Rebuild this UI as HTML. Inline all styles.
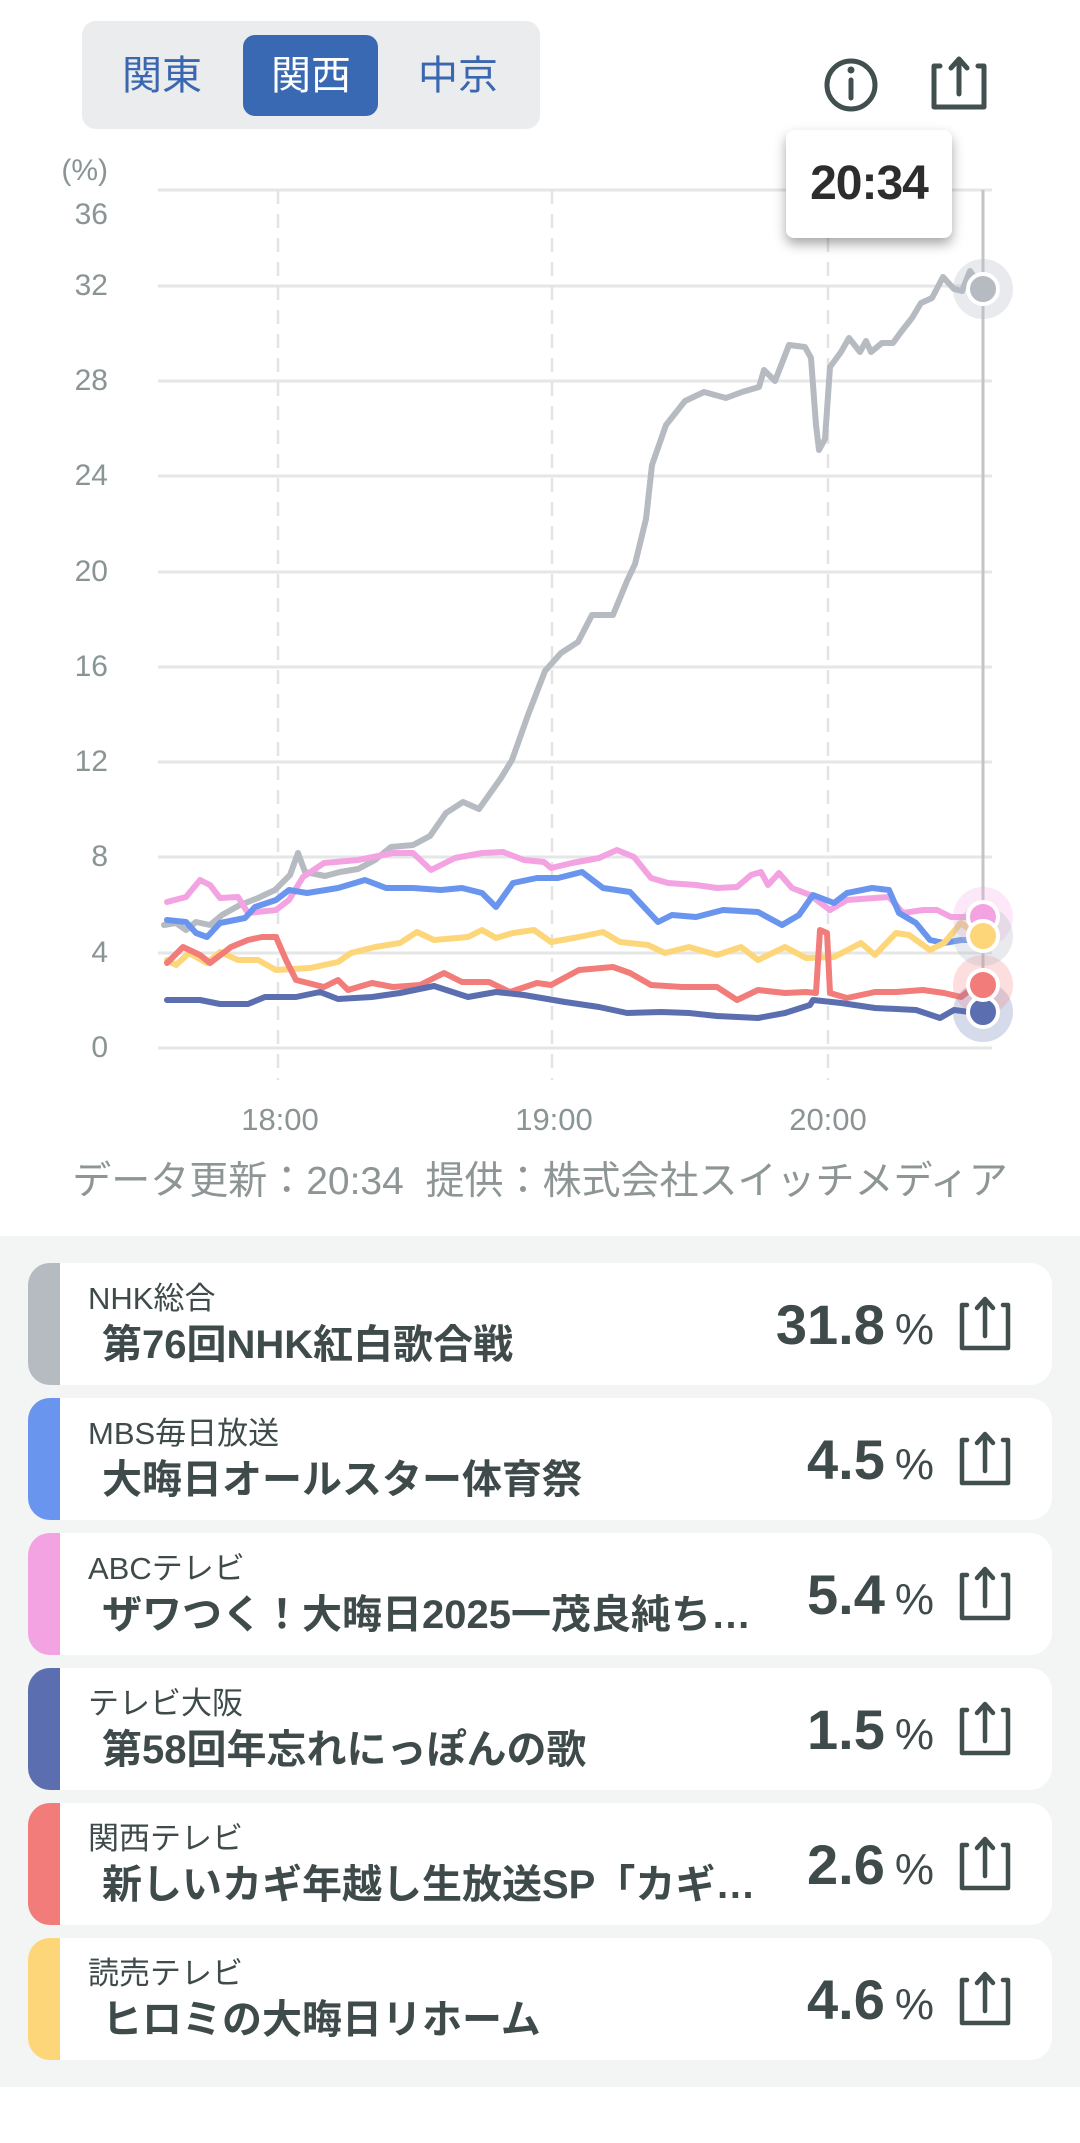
<!DOCTYPE html>
<html><head><meta charset="utf-8"><style>
*{margin:0;padding:0;box-sizing:border-box}
body{width:1080px;height:2143px;background:#fff;position:relative;font-family:"Liberation Sans","Noto Sans CJK JP",sans-serif;overflow:hidden}
.abs{position:absolute}
.seg{left:82px;top:21px;width:458px;height:108px;background:#eaeced;border-radius:14px}
.segt{top:48px;font-size:40px;color:#3a67b0;line-height:56px}
.sel{left:243px;top:35px;width:135px;height:81px;background:#3a69b3;border-radius:12px}
.tip{left:786px;top:130px;width:166px;height:108px;background:#fff;border-radius:8px;box-shadow:0 6px 12px rgba(0,0,0,.35);font-weight:bold;font-size:48px;color:#2d2d2d;text-align:center;line-height:108px;letter-spacing:-1px}
.ylab{width:62px;left:46px;text-align:right;font-size:30px;color:#8a9494;line-height:32px}
.xlab{font-size:31px;color:#8a9494;width:140px;text-align:center;top:1102px}
.foot{left:0;width:1080px;text-align:center;top:1158px;font-size:39px;color:#8d9595;line-height:48px;white-space:nowrap}
.bg{left:0;top:1236px;width:1080px;height:851px;background:#f3f4f4}
.card{left:28px;width:1024px;height:122px;background:#fff;border-radius:22px;overflow:hidden}
.bar{left:0;top:0;width:32px;height:122px}
.ch{left:60px;top:18px;font-size:31px;color:#3f4a4a;line-height:36px}
.ti{left:74px;top:59px;font-size:40px;font-weight:bold;color:#3f4a4a;line-height:46px;white-space:nowrap}
.val{right:118px;top:30px;font-size:56px;font-weight:bold;color:#3f4a4a;line-height:64px}
.val span{font-size:44px;font-weight:normal;margin-left:10px}
</style></head><body>
<div class="abs seg"></div>
<div class="abs sel"></div>
<div class="abs segt" style="left:122px">関東</div>
<div class="abs segt" style="left:271px;color:#fff">関西</div>
<div class="abs segt" style="left:418px">中京</div>

<svg class="abs" style="left:0;top:0" width="1080" height="1100">
<g fill="none" stroke="#424f4f" stroke-width="5" stroke-linecap="round" stroke-linejoin="round">
<circle cx="851" cy="85" r="24"/>
<line x1="851" y1="80" x2="851" y2="98"/>
<path d="M940 66 L934 66 L934 107 L984 107 L984 66 L978 66"/>
<path d="M959 94 L959 60 M951 68 L959 59 L967 68"/>
</g>
<circle cx="851" cy="70" r="3.5" fill="#424f4f"/>
<g stroke="#e6e6e6" stroke-width="3">
<line x1="158" y1="190" x2="992" y2="190"/>
<line x1="158" y1="286" x2="992" y2="286"/>
<line x1="158" y1="381" x2="992" y2="381"/>
<line x1="158" y1="476" x2="992" y2="476"/>
<line x1="158" y1="572" x2="992" y2="572"/>
<line x1="158" y1="667" x2="992" y2="667"/>
<line x1="158" y1="762" x2="992" y2="762"/>
<line x1="158" y1="857" x2="992" y2="857"/>
<line x1="158" y1="953" x2="992" y2="953"/>
<line x1="158" y1="1048" x2="992" y2="1048"/>
</g>
<g stroke="#e3e3e3" stroke-width="2.5" stroke-dasharray="14 10">
<line x1="278" y1="190" x2="278" y2="1080"/>
<line x1="552" y1="190" x2="552" y2="1080"/>
<line x1="828" y1="190" x2="828" y2="1080"/>
</g>
<line x1="983" y1="190" x2="983" y2="1012" stroke="#c4c4c4" stroke-width="3"/>
<g fill="none" stroke-width="6" stroke-linejoin="round" stroke-linecap="round">
<polyline stroke="#b6bbc2" points="164,925 176,923 186,930 196,922 210,925 222,915 240,905 258,898 275,890 290,875 298,853 305,872 325,876 340,872 358,869 375,860 391,847 413,845 430,836 446,813 463,802 479,809 501,778 512,760 528,715 545,671 561,653 578,642 592,615 613,615 627,581 635,564 646,519 652,465 666,425 685,401 704,392 726,398 742,392 759,387 764,370 775,381 789,345 805,347 811,358 816,425 819,450 825,439 830,367 841,352 849,338 860,352 866,341 871,352 882,343 893,343 901,332 912,318 921,303 932,298 943,277 954,289 962,291 970,271 982,289"/>
<polyline stroke="#f4a3e2" points="167,902 186,897 200,880 210,885 220,898 238,897 248,913 276,910 289,900 303,877 324,863 358,860 393,853 413,853 431,870 455,858 482,853 503,852 524,860 544,862 551,868 572,863 599,858 617,850 634,857 651,878 668,883 696,885 717,888 737,887 751,875 761,872 768,885 779,873 792,888 810,895 830,910 847,900 875,898 889,897 903,913 923,910 937,910 951,917 968,917"/>
<polyline stroke="#6a95ee" points="167,920 186,922 196,933 207,937 220,923 245,918 255,907 276,900 289,890 307,893 338,888 365,880 386,888 413,888 441,890 462,888 482,893 496,907 513,883 537,878 558,878 582,872 603,888 630,892 658,922 672,915 696,917 723,910 758,912 782,925 799,915 813,895 834,903 847,893 872,888 889,890 899,913 916,923 930,940 944,943 961,940 970,940"/>
<polyline stroke="#fdd67a" points="167,960 176,965 189,953 207,963 220,952 238,960 258,960 276,970 310,968 338,962 351,953 375,947 400,943 417,932 434,940 468,937 482,930 496,938 513,933 534,930 551,942 579,937 603,932 620,942 648,945 665,953 689,947 717,955 741,947 758,960 785,947 806,958 834,957 861,943 875,955 896,933 909,935 930,950 944,943 961,923 970,930"/>
<polyline stroke="#f27c7a" points="167,963 183,947 200,955 210,963 231,947 248,940 262,937 276,937 286,960 296,980 324,987 338,980 348,990 372,983 393,987 420,985 444,973 462,982 489,982 510,992 537,983 551,985 579,970 613,967 630,973 651,985 682,987 717,987 737,1000 758,990 785,993 806,992 816,993 820,930 827,933 830,993 847,998 875,992 896,992 923,990 944,993 961,997 970,990"/>
<polyline stroke="#5b6fb0" points="167,1000 200,1000 220,1004 248,1004 265,997 296,997 320,992 338,999 372,997 400,993 434,986 468,997 496,992 524,995 565,1002 599,1007 627,1013 661,1012 689,1013 717,1016 758,1018 785,1013 810,1005 813,1000 841,1003 875,1008 916,1010 940,1018 954,1010 970,1012"/>
</g>
<g stroke="#fff" stroke-width="4">
<circle cx="983" cy="289" r="30" fill="rgba(182,187,194,.3)" stroke="none"/>
<circle cx="983" cy="289" r="15" fill="#b6bbc2"/>
<circle cx="983" cy="1012" r="30" fill="rgba(91,111,176,.25)" stroke="none"/>
<circle cx="983" cy="985" r="30" fill="rgba(242,124,122,.25)" stroke="none"/>
<circle cx="983" cy="917" r="30" fill="rgba(244,163,226,.25)" stroke="none"/>
<circle cx="983" cy="936" r="30" fill="rgba(182,187,194,.3)" stroke="none"/>
<circle cx="983" cy="1012" r="15" fill="#5b6fb0"/>
<circle cx="983" cy="985" r="15" fill="#f27c7a"/>
<circle cx="983" cy="917" r="15" fill="#f4a3e2"/>
<circle cx="983" cy="936" r="15" fill="#fdd67a"/>
</g>
</svg>
<div class="abs tip">20:34</div>

<div class="abs ylab" style="top:155px">(%)</div>
<div class="abs ylab" style="top:199px">36</div>
<div class="abs ylab" style="top:270px">32</div>
<div class="abs ylab" style="top:365px">28</div>
<div class="abs ylab" style="top:460px">24</div>
<div class="abs ylab" style="top:556px">20</div>
<div class="abs ylab" style="top:651px">16</div>
<div class="abs ylab" style="top:746px">12</div>
<div class="abs ylab" style="top:841px">8</div>
<div class="abs ylab" style="top:937px">4</div>
<div class="abs ylab" style="top:1032px">0</div>
<div class="abs xlab" style="left:210px">18:00</div>
<div class="abs xlab" style="left:484px">19:00</div>
<div class="abs xlab" style="left:758px">20:00</div>
<div class="abs foot">データ更新：20:34&nbsp; 提供：株式会社スイッチメディア</div>

<div class="abs bg"></div>

<div class="abs card" style="top:1263px"><div class="abs bar" style="background:#b6bbc2"></div><div class="abs ch">NHK総合</div><div class="abs ti">第76回NHK紅白歌合戦</div><div class="abs val">31.8<span>%</span></div>
<svg class="abs" style="left:930px;top:33px" width="60" height="60"><g fill="none" stroke="#424f4f" stroke-width="4.5" stroke-linecap="round" stroke-linejoin="round"><path d="M9 9 L4 9 L4 52 L50 52 L50 9 L45 9"/><path d="M27 40 L27 4 M19 12 L27 3 L35 12"/></g></svg></div>

<div class="abs card" style="top:1398px"><div class="abs bar" style="background:#6a95ee"></div><div class="abs ch">MBS毎日放送</div><div class="abs ti">大晦日オールスター体育祭</div><div class="abs val">4.5<span>%</span></div>
<svg class="abs" style="left:930px;top:33px" width="60" height="60"><g fill="none" stroke="#424f4f" stroke-width="4.5" stroke-linecap="round" stroke-linejoin="round"><path d="M9 9 L4 9 L4 52 L50 52 L50 9 L45 9"/><path d="M27 40 L27 4 M19 12 L27 3 L35 12"/></g></svg></div>

<div class="abs card" style="top:1533px"><div class="abs bar" style="background:#f4a3e2"></div><div class="abs ch">ABCテレビ</div><div class="abs ti">ザワつく！大晦日2025一茂良純ち…</div><div class="abs val">5.4<span>%</span></div>
<svg class="abs" style="left:930px;top:33px" width="60" height="60"><g fill="none" stroke="#424f4f" stroke-width="4.5" stroke-linecap="round" stroke-linejoin="round"><path d="M9 9 L4 9 L4 52 L50 52 L50 9 L45 9"/><path d="M27 40 L27 4 M19 12 L27 3 L35 12"/></g></svg></div>

<div class="abs card" style="top:1668px"><div class="abs bar" style="background:#5b6fb0"></div><div class="abs ch">テレビ大阪</div><div class="abs ti">第58回年忘れにっぽんの歌</div><div class="abs val">1.5<span>%</span></div>
<svg class="abs" style="left:930px;top:33px" width="60" height="60"><g fill="none" stroke="#424f4f" stroke-width="4.5" stroke-linecap="round" stroke-linejoin="round"><path d="M9 9 L4 9 L4 52 L50 52 L50 9 L45 9"/><path d="M27 40 L27 4 M19 12 L27 3 L35 12"/></g></svg></div>

<div class="abs card" style="top:1803px"><div class="abs bar" style="background:#f27c7a"></div><div class="abs ch">関西テレビ</div><div class="abs ti">新しいカギ年越し生放送SP「カギ…</div><div class="abs val">2.6<span>%</span></div>
<svg class="abs" style="left:930px;top:33px" width="60" height="60"><g fill="none" stroke="#424f4f" stroke-width="4.5" stroke-linecap="round" stroke-linejoin="round"><path d="M9 9 L4 9 L4 52 L50 52 L50 9 L45 9"/><path d="M27 40 L27 4 M19 12 L27 3 L35 12"/></g></svg></div>

<div class="abs card" style="top:1938px"><div class="abs bar" style="background:#fdd67a"></div><div class="abs ch">読売テレビ</div><div class="abs ti">ヒロミの大晦日リホーム</div><div class="abs val">4.6<span>%</span></div>
<svg class="abs" style="left:930px;top:33px" width="60" height="60"><g fill="none" stroke="#424f4f" stroke-width="4.5" stroke-linecap="round" stroke-linejoin="round"><path d="M9 9 L4 9 L4 52 L50 52 L50 9 L45 9"/><path d="M27 40 L27 4 M19 12 L27 3 L35 12"/></g></svg></div>
</body></html>
